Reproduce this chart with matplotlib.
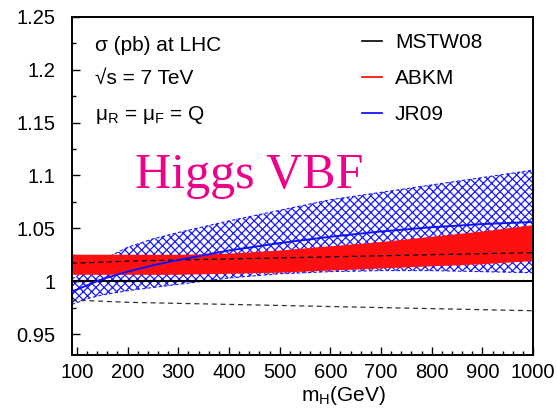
import numpy as np
import matplotlib
matplotlib.use("Agg")
import matplotlib.pyplot as plt
from matplotlib.lines import Line2D
from matplotlib.ticker import MultipleLocator, FuncFormatter

plt.rcParams['font.family'] = ['Liberation Sans', 'DejaVu Sans']
plt.rcParams['mathtext.fontset'] = 'custom'
plt.rcParams['mathtext.rm'] = 'Liberation Sans'
plt.rcParams['hatch.linewidth'] = 0.9

# Higgs mass points (GeV)
mh = [90, 125, 150, 200, 250, 300, 400, 500, 600, 700, 800, 900, 1000]

# MSTW08 band (ratio to MSTW08 central)
mstw_central = [1, 1, 1, 1, 1, 1, 1, 1, 1, 1, 1, 1, 1]
mstw_up = [1.017, 1.0175, 1.018, 1.019, 1.0195, 1.020, 1.021, 1.022, 1.023, 1.024, 1.025, 1.026, 1.027]
mstw_dn = [0.982, 0.9815, 0.981, 0.980, 0.9795, 0.979, 0.978, 0.977, 0.976, 0.975, 0.974, 0.973, 0.972]

# ABKM band
abkm_central = [1.0155, 1.0155, 1.0155, 1.0155, 1.0155, 1.0155, 1.0165, 1.0185, 1.0215, 1.0245, 1.028, 1.0315, 1.036]
abkm_up = [1.025, 1.025, 1.025, 1.025, 1.025, 1.025, 1.026, 1.029, 1.033, 1.037, 1.042, 1.047, 1.053]
abkm_dn = [1.006, 1.006, 1.006, 1.006, 1.006, 1.006, 1.007, 1.008, 1.010, 1.012, 1.014, 1.016, 1.019]

# JR09 band
jr_central = [0.990, 0.997, 1.002, 1.009, 1.015, 1.020, 1.029, 1.036, 1.042, 1.047, 1.051, 1.054, 1.056]
jr_up = [1.002, 1.012, 1.020, 1.032, 1.040, 1.046, 1.057, 1.067, 1.077, 1.084, 1.091, 1.098, 1.105]
jr_dn = [0.978, 0.984, 0.987, 0.991, 0.994, 0.997, 1.003, 1.007, 1.009, 1.010, 1.010, 1.009, 1.008]

fig = plt.figure(figsize=(5.57, 4.12), dpi=100)
ax = fig.add_axes([0.129, 0.138, 0.828, 0.821])

# JR09 hatched band
ax.fill_between(mh, jr_dn, jr_up, facecolor='none', edgecolor='#1a1aff',
                hatch='xxxx', linewidth=0, zorder=1)
ax.plot(mh, jr_up, color='#1a1aff', lw=0.8, ls=(0, (3, 2)), zorder=1)
ax.plot(mh, jr_dn, color='#1a1aff', lw=0.8, ls=(0, (3, 2)), zorder=1)

# ABKM band
ax.fill_between(mh, abkm_dn, abkm_up, facecolor='#ff1010', edgecolor='none', zorder=2)
ax.plot(mh, abkm_central, color='#ff1010', lw=1.0, zorder=2)

# MSTW08
ax.plot(mh, mstw_up, color='black', lw=0.9, ls=(0, (4, 3)), zorder=3)
ax.plot(mh, mstw_dn, color='#333333', lw=0.9, ls=(0, (4, 3)), zorder=3)
ax.plot(mh, mstw_central, color='black', lw=1.5, zorder=4)

ax.plot(mh, jr_central, color='#1010ff', lw=1.4, zorder=4)

ax.set_xlim(90, 1000)
ax.set_ylim(0.93, 1.25)

ax.xaxis.set_major_locator(MultipleLocator(100))
ax.xaxis.set_minor_locator(MultipleLocator(20))
ax.yaxis.set_major_locator(MultipleLocator(0.05))
ax.yaxis.set_minor_locator(MultipleLocator(0.025))
ax.yaxis.set_major_formatter(FuncFormatter(lambda v, p: '{:g}'.format(round(v, 3))))

ax.tick_params(which='both', direction='in', top=False, right=False, labelsize=14.5)
ax.tick_params(axis='y', which='major', length=6, width=1.0, pad=12)
ax.tick_params(axis='y', which='minor', length=3, width=1.0)
ax.tick_params(axis='x', which='major', length=6, width=1.0, pad=6)
ax.tick_params(axis='x', which='minor', length=3, width=1.0)
for s in ax.spines.values():
    s.set_linewidth(1.4)

ax.set_xlabel('m$_\\mathregular{H}$(GeV)', fontsize=15)
ax.xaxis.set_label_coords(0.59, -0.085)

ax.text(0.05, 0.899, 'σ (pb) at LHC', transform=ax.transAxes, fontsize=15)
ax.text(0.05, 0.801, '√s = 7 TeV', transform=ax.transAxes, fontsize=15)
ax.text(0.05, 0.694, 'μ$_\\mathregular{R}$ = μ$_\\mathregular{F}$ = Q', transform=ax.transAxes, fontsize=15)
ax.text(0.137, 0.494, 'Higgs VBF', transform=ax.transAxes, fontsize=36,
        family='Liberation Serif', color='#ec008c')

handles = [Line2D([], [], color='black', lw=1.2),
           Line2D([], [], color='red', lw=1.2),
           Line2D([], [], color='blue', lw=1.2)]
ax.legend(handles, ['MSTW08', 'ABKM', 'JR09'], loc='upper left',
          bbox_to_anchor=(0.629, 0.952), frameon=False, fontsize=15,
          handlelength=0.96, handletextpad=0.63, labelspacing=0.82,
          borderpad=0, borderaxespad=0)

fig.savefig('out.png', dpi=100)
